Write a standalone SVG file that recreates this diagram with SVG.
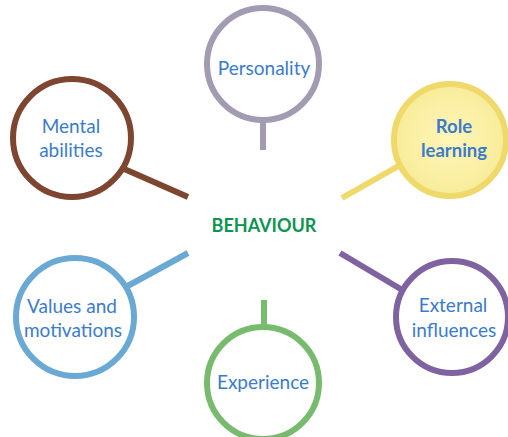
<svg xmlns="http://www.w3.org/2000/svg" width="508" height="437" viewBox="0 0 508 437">
<style>
.t{font-family:Lato,"Open Sans",sans-serif;font-size:19px;fill:#3b7bcc;text-anchor:middle}
.b{font-weight:bold;font-size:18.5px}
.ring{fill:#fff;stroke-width:6}
.stem{stroke-width:6;fill:none}
</style>
<defs>
<radialGradient id="yg" cx="0.5" cy="0.5" r="0.5">
<stop offset="0" stop-color="#fff6b8"/>
<stop offset="1" stop-color="#f8ec9a"/>
</radialGradient>
</defs>
<rect width="508" height="437" fill="#fff"/>
<g id="connectors">
<line class="stem" x1="263" y1="118" x2="263" y2="150" stroke="#a39bb1"/>
<line class="stem" x1="122" y1="168" x2="188" y2="197" stroke="#7e4630"/>
<line class="stem" x1="342" y1="198" x2="402" y2="164" stroke="#efd96b"/>
<line class="stem" x1="340" y1="253" x2="404" y2="291" stroke="#7f63a1"/>
<line class="stem" x1="188" y1="253" x2="124" y2="288" stroke="#69a9d3"/>
<line class="stem" x1="264" y1="300" x2="264" y2="328" stroke="#78bb6f"/>
</g>
<g id="personality">
<circle class="ring" cx="263" cy="64" r="56" stroke="#a39bb1"/>
<text class="t" x="264" y="75">Personality</text>
</g>
<g id="mental">
<circle class="ring" cx="72" cy="138" r="59" stroke="#7e4630"/>
<text class="t" x="71" y="133">Mental</text>
<text class="t" x="71" y="157">abilities</text>
</g>
<g id="role">
<circle cx="450" cy="140" r="56" fill="url(#yg)" stroke="#efd96b" stroke-width="6"/>
<text class="t b" x="454" y="133">Role</text>
<text class="t b" x="454" y="157">learning</text>
</g>
<g id="behaviour">
<text class="t b" x="264" y="232" style="fill:#0e9352;font-size:18px">BEHAVIOUR</text>
</g>
<g id="external">
<circle class="ring" cx="452" cy="317" r="56" stroke="#7f63a1"/>
<text class="t" x="453" y="312">External</text>
<text class="t" x="454" y="337">influences</text>
</g>
<g id="values">
<circle class="ring" cx="75" cy="317" r="59" stroke="#69a9d3"/>
<text class="t" x="72" y="313">Values and</text>
<text class="t" x="73" y="337">motivations</text>
</g>
<g id="experience">
<circle class="ring" cx="263" cy="383" r="56" stroke="#78bb6f"/>
<text class="t" x="263" y="389">Experience</text>
</g>
</svg>
